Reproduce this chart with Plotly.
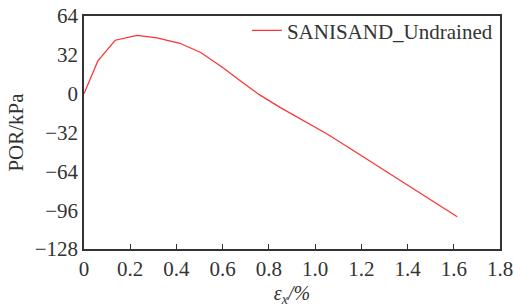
import plotly.graph_objects as go

strain = [0, 0.06, 0.135, 0.23, 0.315, 0.415, 0.505, 0.6, 0.68, 0.76, 0.85, 0.95,
          1.05, 1.15, 1.25, 1.35, 1.45, 1.55, 1.615]
por = [0, 27, 44, 48, 46, 41.5, 34, 21.5, 10, -1, -11.5, -22,
       -33, -45, -57, -69, -81, -93.5, -101.5]
series_name = "SANISAND_Undrained"
x_ticks = [0, 0.2, 0.4, 0.6, 0.8, 1.0, 1.2, 1.4, 1.6, 1.8]
x_labels = ["0", "0.2", "0.4", "0.6", "0.8", "1.0", "1.2", "1.4", "1.6", "1.8"]
y_ticks = [-128, -96, -64, -32, 0, 32, 64]

font = "Liberation Serif, Times New Roman, serif"
axcol = "#333333"
fs = 21

fig = go.Figure()
fig.add_trace(go.Scatter(x=strain, y=por, mode="lines", name=series_name,
                         line=dict(color="#ff3030", width=1.2)))
fig.update_layout(
    width=514, height=307,
    margin=dict(l=84, r=14, t=16, b=58, autoexpand=False),
    paper_bgcolor="white", plot_bgcolor="white",
    font=dict(family=font, size=fs, color="#333333"),
    showlegend=True,
    legend=dict(x=0.995, y=1.025, xanchor="right", yanchor="top",
                bgcolor="rgba(0,0,0,0)", font=dict(size=fs, family=font),
                itemwidth=30, tracegroupgap=0),
    xaxis=dict(range=[0, 1.8], tickvals=x_ticks, ticktext=x_labels,
               showgrid=False, zeroline=False, automargin=False,
               showline=True, linecolor=axcol, linewidth=1.5, mirror=True,
               ticks="inside", ticklen=5, tickcolor=axcol, tickwidth=1.2,
               tickfont=dict(size=fs, family=font),
               title=dict(text="<i>ε<sub>x</sub>/%</i>", font=dict(size=20, family=font), standoff=7)),
    yaxis=dict(range=[-128, 64], tickvals=y_ticks,
               showgrid=False, zeroline=False, automargin=False,
               showline=True, linecolor=axcol, linewidth=1.5, mirror=True,
               ticks="", tickfont=dict(size=fs, family=font),
               title=dict(text="POR/kPa", font=dict(size=21, family=font), standoff=5)),
)
fig.write_html("out.html", config={"displayModeBar": False},
               post_script="document.body.style.margin='0';document.body.style.overflow='hidden';")
